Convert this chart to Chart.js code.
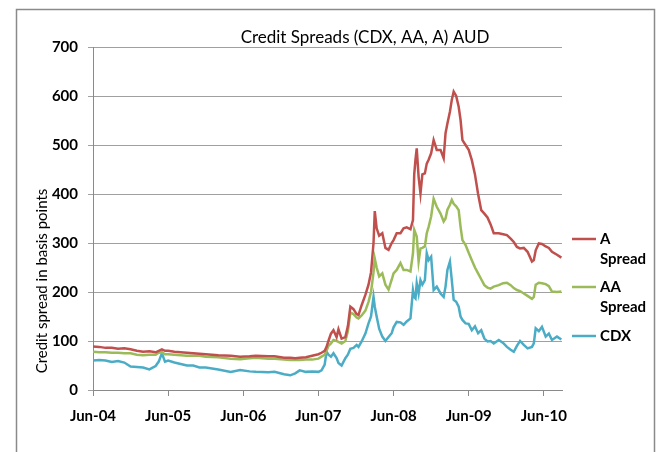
<!DOCTYPE html>
<html lang="en">
<head>
  <meta charset="UTF-8">
  <title>Credit Spreads (CDX, AA, A) AUD</title>
  <style>
    body {
      margin: 0;
      padding: 0;
      background: #fff;
    }
    .chart-box {
      position: relative;
      width: 660px;
      height: 452px;
    }
  </style>
</head>
<body>
  <div class="chart-box">
    <canvas id="spreadChart" width="660" height="452"></canvas>
  </div>

  <script src="https://cdn.jsdelivr.net/npm/chart.js@4.4.1/dist/chart.umd.min.js"></script>
  <script>
    // months since Jun-04
    const months = [
      0, 1, 2, 3, 4, 5, 6, 7, 8, 9, 10, 10.5, 11, 11.5, 12, 13, 14, 15, 16, 17, 18,
      20, 22, 23.5, 25, 26, 28, 29, 30.5, 31.5, 32.3, 33, 34, 35, 36, 36.5, 37, 37.3,
      37.6, 38, 38.4, 38.9, 39.2, 39.7, 40.3, 40.7, 41.1, 41.6, 42.1, 42.4, 42.9, 43.5,
      44, 44.4, 44.8, 45, 45.3, 45.7, 46.2, 46.7, 47.2, 47.7, 48, 48.5, 49.1, 49.6,
      50.1, 50.7, 51.1, 51.3, 51.5, 51.7, 52, 52.3, 52.6, 53, 53.3, 53.6, 54, 54.4,
      54.9, 55.5, 56, 56.3, 56.6, 57, 57.3, 57.6, 58, 58.4, 58.7, 59, 59.5, 60, 60.5,
      61, 61.5, 62, 62.5, 63, 63.5, 64, 64.8, 65.5, 66.1, 66.7, 67.2, 67.7, 68.2,
      68.8, 69.4, 70.1, 70.4, 70.7, 71.2, 71.7, 72.3, 72.8, 73.3, 74.1, 74.8
    ];

    const aSpread = [
      89, 88, 86, 86, 84, 85, 83, 80, 78, 79, 77, 80, 83, 80, 80, 78, 77, 76, 75, 74, 73,
      71, 70, 68, 69, 70, 69, 69, 66, 66, 65, 66, 67, 70, 73, 76, 80, 88,
      100, 115, 122, 108, 124, 105, 108, 130, 170, 165, 155, 153, 173, 194,
      215, 240, 300, 365, 330, 315, 320, 290, 286, 300, 306, 320, 320, 330,
      332, 328, 347, 440, 470, 493, 435, 401, 440, 442, 462, 470, 483, 510,
      490, 490, 473, 524, 544, 568, 592, 609, 600, 578, 551, 510, 500, 490, 469,
      440, 400, 367, 360, 352, 338, 320, 320, 318, 316, 309, 302, 292, 289,
      290, 282, 262, 265, 285, 299, 298, 293, 290, 282, 276, 270
    ];

    const aaSpread = [
      78, 77, 77, 76, 76, 75, 75, 72, 71, 72, 72, 76, 77, 73, 73, 72, 71, 70, 70, 70, 68,
      67, 64, 63, 65, 66, 64, 64, 62, 61, 61, 61, 62, 62, 64, 68, 72, 80,
      90, 95, 102, 100, 98, 95, 100, 120, 158, 155, 148, 146, 152, 162,
      180, 200, 240, 268, 250, 232, 238, 215, 205, 225, 238, 245, 259, 245,
      245, 242, 279, 327, 320, 313, 262, 289, 290, 293, 320, 333, 354, 390,
      374, 360, 344, 350, 368, 378, 388, 380, 375, 367, 333, 306, 296, 280, 265,
      250, 238, 226, 214, 209, 207, 211, 214, 218, 219, 214, 208, 204, 202,
      197, 192, 186, 190, 215, 219, 218, 216, 212, 201, 200, 201
    ];

    const cdx = [
      60, 61, 60, 57, 59, 56, 48, 47, 46, 42, 49, 58, 75, 58, 60, 56, 53, 50, 50, 46, 46,
      42, 37, 41, 38, 37, 36, 37, 32, 30, 34, 40, 37, 38, 37, 40, 52, 78,
      72, 68, 75, 65, 55, 50, 65, 72, 84, 86, 92, 88, 99, 115,
      136, 150, 190, 170, 150, 125, 109, 100, 108, 116, 128, 139, 138, 133,
      140, 146, 204, 190, 187, 218, 197, 224, 215, 224, 279, 265, 272, 204,
      211, 197, 190, 211, 245, 262, 224, 184, 180, 170, 150, 143, 136, 135, 122,
      130, 116, 122, 105, 99, 100, 95, 102, 96, 88, 82, 78, 90, 100,
      92, 85, 88, 95, 126, 120, 129, 109, 115, 102, 109, 103
    ];

    const tickMonths = [0, 12, 24, 36, 48, 60, 72];
    const tickLabels = ['Jun-04', 'Jun-05', 'Jun-06', 'Jun-07', 'Jun-08', 'Jun-09', 'Jun-10'];

    const seriesNames = [['A', 'Spread'], ['AA', 'Spread'], ['CDX']];
    const seriesColors = ['#C0504D', '#9BBB59', '#4BACC6'];

    const FONT = 'Lato, "Open Sans", sans-serif';

    function points(values) {
      return months.map((m, i) => ({ x: m, y: values[i] }));
    }

    // frame, title, axis title and the wrapped legend on the right
    const decorations = {
      id: 'decorations',
      afterDraw(chart) {
        const ctx = chart.ctx;
        ctx.save();

        ctx.strokeStyle = '#8a8a8a';
        ctx.lineWidth = 1.5;
        ctx.strokeRect(16.5, 9.5, 638, 470);

        ctx.fillStyle = '#000';
        ctx.textAlign = 'center';
        ctx.textBaseline = 'middle';
        ctx.font = '17px ' + FONT;
        ctx.fillText('Credit Spreads (CDX, AA, A) AUD', 365, 38);

        ctx.save();
        ctx.translate(42, 281);
        ctx.rotate(-Math.PI / 2);
        ctx.font = '15px ' + FONT;
        ctx.fillText('Credit spread in basis points', 0, 0);
        ctx.restore();

        ctx.textAlign = 'left';
        ctx.font = 'bold 15px ' + FONT;
        const rows = [239, 287, 336];
        seriesNames.forEach((lines, i) => {
          const y = rows[i];
          ctx.strokeStyle = seriesColors[i];
          ctx.lineWidth = 2.5;
          ctx.beginPath();
          ctx.moveTo(572, y);
          ctx.lineTo(596, y);
          ctx.stroke();
          lines.forEach((txt, j) => {
            ctx.fillText(txt, 600, y + j * 20);
          });
        });

        ctx.restore();
      }
    };

    const ctx = document.getElementById('spreadChart').getContext('2d');
    new Chart(ctx, {
      type: 'line',
      data: {
        datasets: seriesNames.map((name, i) => ({
          label: name.join(' '),
          data: points([aSpread, aaSpread, cdx][i]),
          borderColor: seriesColors[i],
          borderWidth: 2.5,
          pointRadius: 0,
          tension: 0,
          fill: false
        }))
      },
      options: {
        responsive: false,
        animation: false,
        events: [],
        layout: {
          padding: { top: 47, right: 98, bottom: 0, left: 0 }
        },
        plugins: {
          legend: { display: false },
          title: { display: false },
          tooltip: { enabled: false }
        },
        scales: {
          x: {
            type: 'linear',
            min: 0,
            max: 74.9,
            afterFit(scale) { scale.height = 62; },
            afterBuildTicks(scale) {
              scale.ticks = tickMonths.map(v => ({ value: v }));
            },
            grid: {
              drawOnChartArea: false,
              drawTicks: true,
              tickLength: 6,
              color: '#8a8a8a'
            },
            border: { color: '#8a8a8a', width: 1 },
            ticks: {
              autoSkip: false,
              maxRotation: 0,
              padding: 11,
              color: '#000',
              font: { family: FONT, size: 15, weight: 'bold' },
              callback: (value, index) => tickLabels[index]
            }
          },
          y: {
            min: 0,
            max: 700,
            afterFit(scale) { scale.width = 93; },
            grid: {
              color: '#a0a0a0',
              tickLength: 5,
              lineWidth: 1
            },
            border: { color: '#8a8a8a', width: 1 },
            ticks: {
              stepSize: 100,
              padding: 10,
              color: '#000',
              font: { family: FONT, size: 15, weight: 'bold' }
            }
          }
        }
      },
      plugins: [decorations]
    });
  </script>
</body>
</html>
